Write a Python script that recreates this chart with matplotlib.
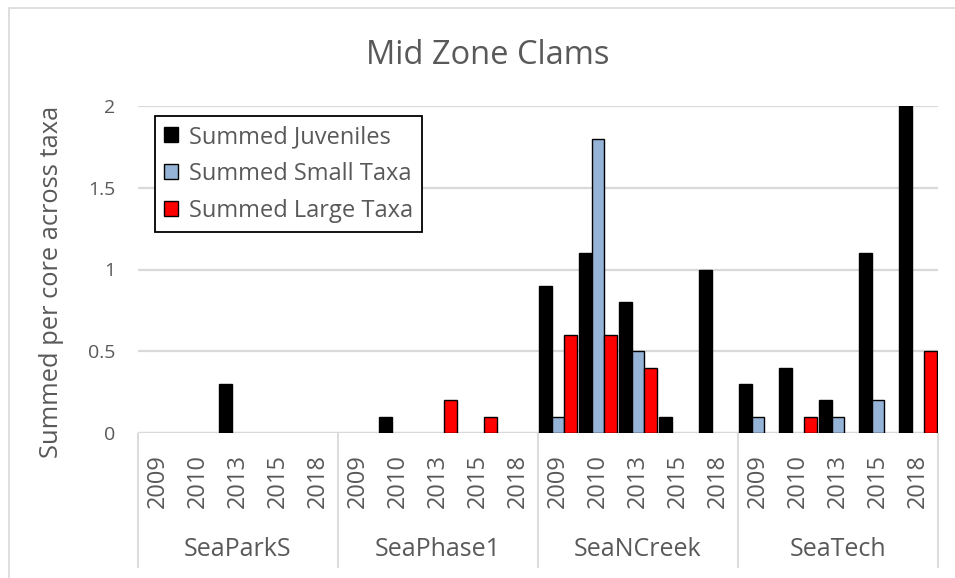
import numpy as np
import matplotlib.pyplot as plt
from matplotlib.patches import Patch, Rectangle

plt.rcParams['font.family'] = ['Open Sans', 'DejaVu Sans']

# categories: 4 sites x 5 years
sites = ["SeaParkS", "SeaPhase1", "SeaNCreek", "SeaTech"]
years = ["2009", "2010", "2013", "2015", "2018"]

# summed per core across taxa, one value per site/year
juveniles = [0, 0, 0.3, 0, 0,
             0, 0.1, 0, 0, 0,
             0.9, 1.1, 0.8, 0.1, 1.0,
             0.3, 0.4, 0.2, 1.1, 2.0]
small_taxa = [0, 0, 0, 0, 0,
              0, 0, 0, 0, 0,
              0.1, 1.8, 0.5, 0, 0,
              0.1, 0, 0.1, 0.2, 0]
large_taxa = [0, 0, 0, 0, 0,
              0, 0, 0.2, 0.1, 0,
              0.6, 0.6, 0.4, 0, 0,
              0, 0.1, 0, 0, 0.5]

series = [
    ("Summed Juveniles", juveniles, "#000000"),
    ("Summed Small Taxa", small_taxa, "#95B3D7"),
    ("Summed Large Taxa", large_taxa, "#FF0000"),
]

TEXT = "#595959"
GRID = "#D9D9D9"
W, H = 955, 578

fig = plt.figure(figsize=(W / 100, H / 100), dpi=100)
# plot area in pixels: x 138..938, y 106..433 (from top)
ax = fig.add_axes([138 / W, 1 - 433 / H, 800 / W, 327 / H])

n_cat = len(sites) * len(years)
centers = np.arange(n_cat) + 0.5
bar_w = 0.31
offsets = [-bar_w, 0.0, bar_w]

for (label, vals, color), off in zip(series, offsets):
    vals = np.asarray(vals, dtype=float)
    keep = vals > 0
    ax.bar(centers[keep] + off, vals[keep], width=bar_w, color=color,
           edgecolor="black", linewidth=1.0, zorder=3)

ax.set_xlim(0, n_cat)
ax.set_ylim(0, 2)
ax.set_yticks([0, 0.5, 1, 1.5, 2])
ax.set_yticklabels(["0", "0.5", "1", "1.5", "2"])
ax.tick_params(axis="y", length=0, pad=16.5, labelsize=14, labelcolor=TEXT)
ax.set_xticks([])
ax.grid(axis="y", color=GRID, linewidth=1.6, zorder=0)
for s in ax.spines.values():
    s.set_visible(False)
ax.axhline(0, color=GRID, linewidth=1.6, zorder=1)

# multi-level category axis
depth = -(568 - 433) / 327
ax.vlines(np.arange(0, n_cat + 1, len(years)), depth, 0,
          transform=ax.get_xaxis_transform(), color=GRID, linewidth=1.3,
          clip_on=False)
year_y = -(481 - 433) / 327
site_y = -(549 - 433) / 327
for i, c in enumerate(centers):
    ax.text(c, year_y, years[i % len(years)], rotation=90, ha="center",
            va="center", fontsize=17, color=TEXT,
            transform=ax.get_xaxis_transform())
for j, site in enumerate(sites):
    ax.text(j * len(years) + len(years) / 2, site_y, site, ha="center",
            va="center", fontsize=18, color=TEXT,
            transform=ax.get_xaxis_transform())

fig.text(52 / W, 1 - 282 / H, "Summed per core across taxa", rotation=90,
         ha="center", va="center", fontsize=18.4, color=TEXT)
fig.text(488 / W, 1 - 55 / H, "Mid Zone Clams", ha="center", va="center",
         fontsize=23.5, color=TEXT)

handles = [Patch(facecolor=c, edgecolor="black", linewidth=1.0)
           for _, _, c in series]
leg = ax.legend(handles, [s[0] for s in series], loc="upper left",
                bbox_to_anchor=(155 / W, 1 - 116 / H),
                bbox_transform=fig.transFigure, fontsize=17, frameon=True,
                fancybox=False, framealpha=1, edgecolor="black",
                handlelength=0.6, handleheight=0.6, handletextpad=0.45,
                labelspacing=0.55, borderpad=0.38, borderaxespad=0)
leg.get_frame().set_linewidth(1.3)
for t in leg.get_texts():
    t.set_color(TEXT)

# chart area border (cropped on right and bottom)
fig.patches.append(Rectangle((8.5 / W, -0.05), 1.2, 1.05 - 7.5 / H,
                             transform=fig.transFigure, fill=False,
                             edgecolor=GRID, linewidth=1.2))

fig.savefig("out.png", dpi=100)
